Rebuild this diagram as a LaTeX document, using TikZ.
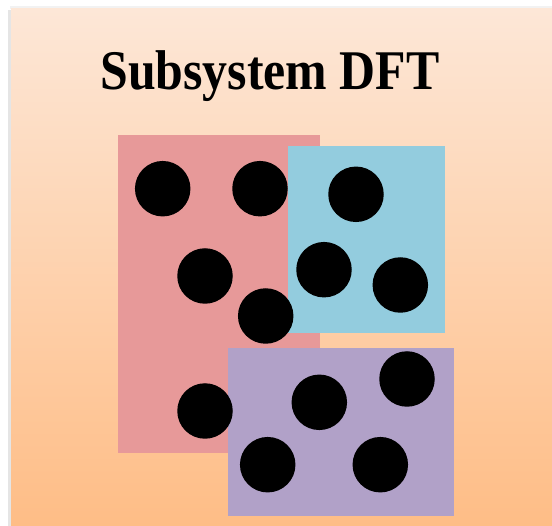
\documentclass[tikz,border=0pt]{standalone}
\usepackage{fontspec}
\setmainfont{Liberation Serif}
\usepackage{xcolor}
\usepackage{tikz}
\usetikzlibrary{positioning}

\definecolor{bgtop}{HTML}{FDE7D7}
\definecolor{bgbot}{HTML}{FEBD86}
\definecolor{redsub}{HTML}{E79999}
\definecolor{bluesub}{HTML}{93CCDE}
\definecolor{purplesub}{HTML}{B1A1C8}

\begin{document}
\begin{tikzpicture}[
    x=1pt, y=-1pt,
    atom/.style={circle, fill=black, inner sep=0pt, minimum size=55.5pt},
]
\useasboundingbox (0,0) rectangle (552,526);
\fill[black!10] (8,10) rectangle (11,526);
\fill[black!5] (10,6) rectangle (552,9);
\shade[top color=bgtop, bottom color=bgbot] (11,9) rectangle (552,526);

\node[font=\fontsize{56}{60}\selectfont\bfseries, anchor=base, xscale=0.89] (title) at (270,90) {Subsystem DFT};

% subsystems
\fill[redsub] (118,135) rectangle (320,453);
\fill[bluesub] (288,146) rectangle (445,333);
\fill[purplesub] (228,348) rectangle (454,516);

% atoms
\node[atom] (a1) at (162.7,188.7) {};
\node[atom] (a2) at (260,188.7) {};
\node[atom] (a3) at (356,194.3) {};
\node[atom] (a4) at (205,276) {};
\node[atom] (a5) at (324,269.7) {};
\node[atom] (a6) at (400.3,285) {};
\node[atom] (a7) at (265.7,316) {};
\node[atom] (a8) at (205,411) {};
\node[atom] (a9) at (319.3,402.3) {};
\node[atom] (a10) at (407,379) {};
\node[atom] (a11) at (267.7,464.7) {};
\node[atom] (a12) at (380.3,464.7) {};
\end{tikzpicture}
\end{document}
